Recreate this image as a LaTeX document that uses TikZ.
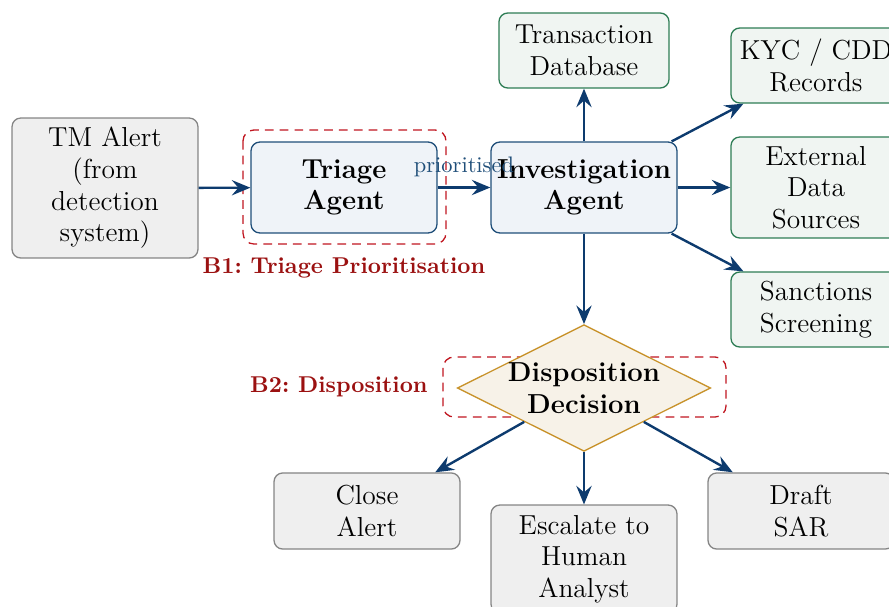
\documentclass[tikz,border=0pt]{standalone}
\usetikzlibrary{shapes.geometric,arrows.meta}

\definecolor{grayfill}{HTML}{EFEFEF}
\definecolor{grayline}{HTML}{858585}
\definecolor{agentfill}{HTML}{EFF3F8}
\definecolor{agentline}{HTML}{1F4E79}
\definecolor{srcfill}{HTML}{F0F5F2}
\definecolor{srcline}{HTML}{2E7D55}
\definecolor{decfill}{HTML}{F7F2E8}
\definecolor{decline}{HTML}{C8922A}
\definecolor{flowblue}{HTML}{0D3B6E}
\definecolor{boundred}{HTML}{C01620}
\definecolor{labelred}{HTML}{9B1111}

\newcommand{\boxfont}{\fontsize{12.6pt}{14.5pt}\selectfont}
\newcommand{\smallfont}{\fontsize{10.5pt}{12.6pt}\selectfont}

\begin{document}
\begin{tikzpicture}[
  x=0.4587pt, y=-0.4587pt,
  box/.style={draw, rounded corners=4pt, align=center, font=\boxfont,
    inner sep=0pt, line width=0.6pt},
  inputbox/.style={box, draw=grayline, fill=grayfill,
    minimum width=85.3pt, minimum height=64.2pt},
  agent/.style={box, draw=agentline, fill=agentfill, font=\boxfont\bfseries,
    minimum width=85.3pt, minimum height=41.7pt},
  source/.style={box, draw=srcline, fill=srcfill, minimum width=78pt,
    minimum height=34.4pt},
  outcome/.style={box, draw=grayline, fill=grayfill, minimum width=85.3pt,
    minimum height=34.9pt},
  decision/.style={diamond, aspect=2, draw=decline, fill=decfill,
    font=\boxfont\bfseries, align=center, inner sep=0pt, line width=0.6pt,
    minimum width=116pt, minimum height=57.8pt},
  flow/.style={-{Stealth[length=8.5pt,width=7pt,inset=3pt]},
    line width=1.1pt, draw=flowblue},
  bound/.style={draw=boundred, dash pattern=on 4pt off 2.8pt,
    rounded corners=5pt, line width=0.6pt},
  blabel/.style={font=\smallfont\bfseries, text=labelred, inner sep=0pt},
]
\useasboundingbox (0,0) rectangle (889,607);
\clip (0,0) rectangle (889,607);

% boundary frames (behind the nodes)
\draw[bound] (243,130) rectangle (446,244);
\draw[bound] (443,357) rectangle (726,417);

% nodes
\node[inputbox] (tm) at (105,188) {TM Alert\\(from\\detection\\system)};
\node[agent] (triage) at (344,187.5) {Triage\\Agent};
\node[agent] (inv) at (584,187.5) {Investigation\\Agent};

\node[source] (txn) at (584,50.5) {Transaction\\Database};
\node[source] (kyc) at (816,65.5) {KYC / CDD\\Records};
\node[source, minimum height=46.3pt] (ext) at (816,187.5) {External\\Data\\Sources};
\node[source] (sanc) at (816,309.5) {Sanctions\\Screening};

\node[decision] (dec) at (584,388) {Disposition\\Decision};

\node[outcome] (close) at (367,511) {Close\\Alert};
\node[outcome, minimum height=49.5pt] (esc) at (584,559) {Escalate to\\Human\\Analyst};
\node[outcome] (sar) at (801,511) {Draft\\SAR};

% boundary labels
\node[blabel] (b1) at (344,268) {B1:\ Triage Prioritisation};
\node[blabel, anchor=east] (b2) at (428,387) {B2:\ Disposition};

% connectors
\draw[flow] (tm) -- (triage);
\draw[flow] (triage) -- (inv);
\node[text=agentline, font=\fontsize{10.3pt}{12pt}\selectfont, inner sep=0pt] (prio) at (464,167) {prioritised};
\draw[flow] (inv) -- (txn);
\draw[flow] (inv) -- (kyc);
\draw[flow] (inv) -- (ext);
\draw[flow] (inv) -- (sanc);
\draw[flow] (inv) -- (dec);
\draw[flow] (dec) -- (close);
\draw[flow] (dec) -- (esc);
\draw[flow] (dec) -- (sar);
\end{tikzpicture}
\end{document}
